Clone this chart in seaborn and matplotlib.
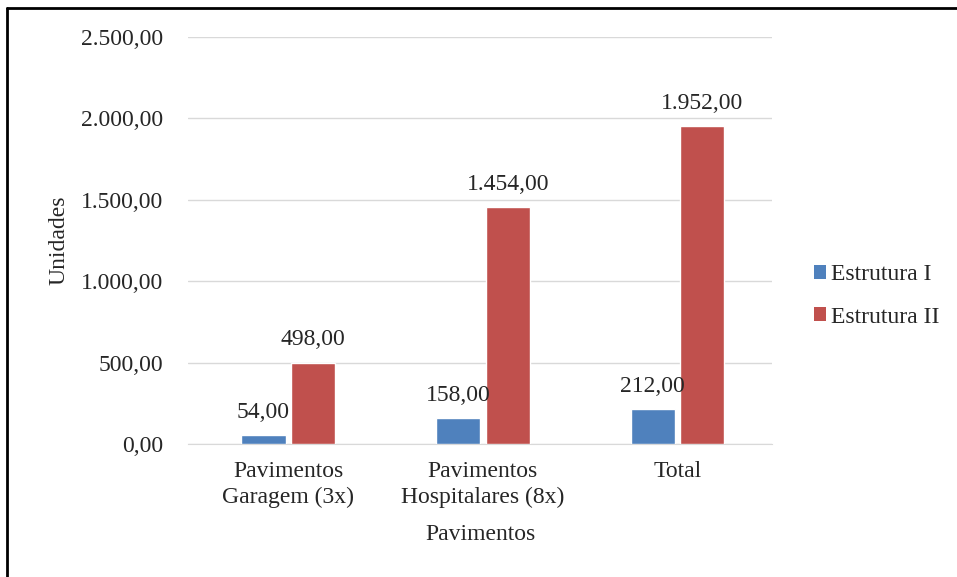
import matplotlib
matplotlib.use("Agg")
import matplotlib.pyplot as plt
import seaborn as sns
import pandas as pd
from matplotlib.lines import Line2D
from matplotlib.patches import Patch

categories = ["Pavimentos\nGaragem (3x)", "Pavimentos\nHospitalares (8x)", "Total"]
series = ["Estrutura I", "Estrutura II"]
estrutura_1 = [54.0, 158.0, 212.0]
estrutura_2 = [498.0, 1454.0, 1952.0]
yticks = [0, 500, 1000, 1500, 2000, 2500]
colors = ["#4F81BD", "#C0504D"]

def fmt(v):
    s = f"{v:,.2f}"
    return s.replace(",", "X").replace(".", ",").replace("X", ".")

df = pd.DataFrame({
    "cat": categories * 2,
    "serie": [series[0]] * 3 + [series[1]] * 3,
    "val": estrutura_1 + estrutura_2,
})

sns.set_style("white")
plt.rcParams["font.family"] = ["Liberation Serif", "DejaVu Serif"]
FS = 17

fig = plt.figure(figsize=(9.57, 5.77), dpi=100)
ax = fig.add_axes([188/957, 1 - 444/577, (772-188)/957, (444-37)/577])

sns.barplot(data=df, x="cat", y="val", hue="serie", palette=colors,
            width=0.51, gap=0.11, saturation=1, ax=ax, legend=False, zorder=3)

ax.set_xlim(-0.515, 2.485)
ax.set_ylim(0, 2500)
ax.set_yticks(yticks)
ax.set_yticklabels([fmt(v) for v in yticks], fontsize=FS)
ax.tick_params(axis="x", labelsize=FS, length=0, pad=12)
ax.tick_params(axis="y", length=0, pad=18)
for t in ax.get_xticklabels():
    t.set_linespacing(1.3)
ax.grid(axis="y", color="#D9D9D9", linewidth=1, zorder=0)
for s in ["top", "right", "left"]:
    ax.spines[s].set_visible(False)
ax.spines["bottom"].set_color("#D9D9D9")
ax.set_xlabel("Pavimentos", fontsize=FS, labelpad=12)
ax.set_ylabel("Unidades", fontsize=FS, labelpad=8)

for cont in ax.containers:
    ax.bar_label(cont, labels=[fmt(v) for v in cont.datavalues], fontsize=FS, padding=9)

handles = [Patch(facecolor=c, edgecolor="none") for c in colors]
fig.legend(handles, series, loc="center left", bbox_to_anchor=(814/957, 1 - 296/577),
           frameon=False, fontsize=FS, handlelength=0.51, handleheight=0.51,
           handletextpad=0.22, labelspacing=0.9, borderpad=0, borderaxespad=0)

fig.add_artist(Line2D([7.5/957, 7.5/957], [0, 1 - 7.5/577], color="black", lw=2, transform=fig.transFigure))
fig.add_artist(Line2D([7.5/957, 1], [1 - 7.5/577, 1 - 7.5/577], color="black", lw=2, transform=fig.transFigure))

fig.savefig("out.png", dpi=100)
